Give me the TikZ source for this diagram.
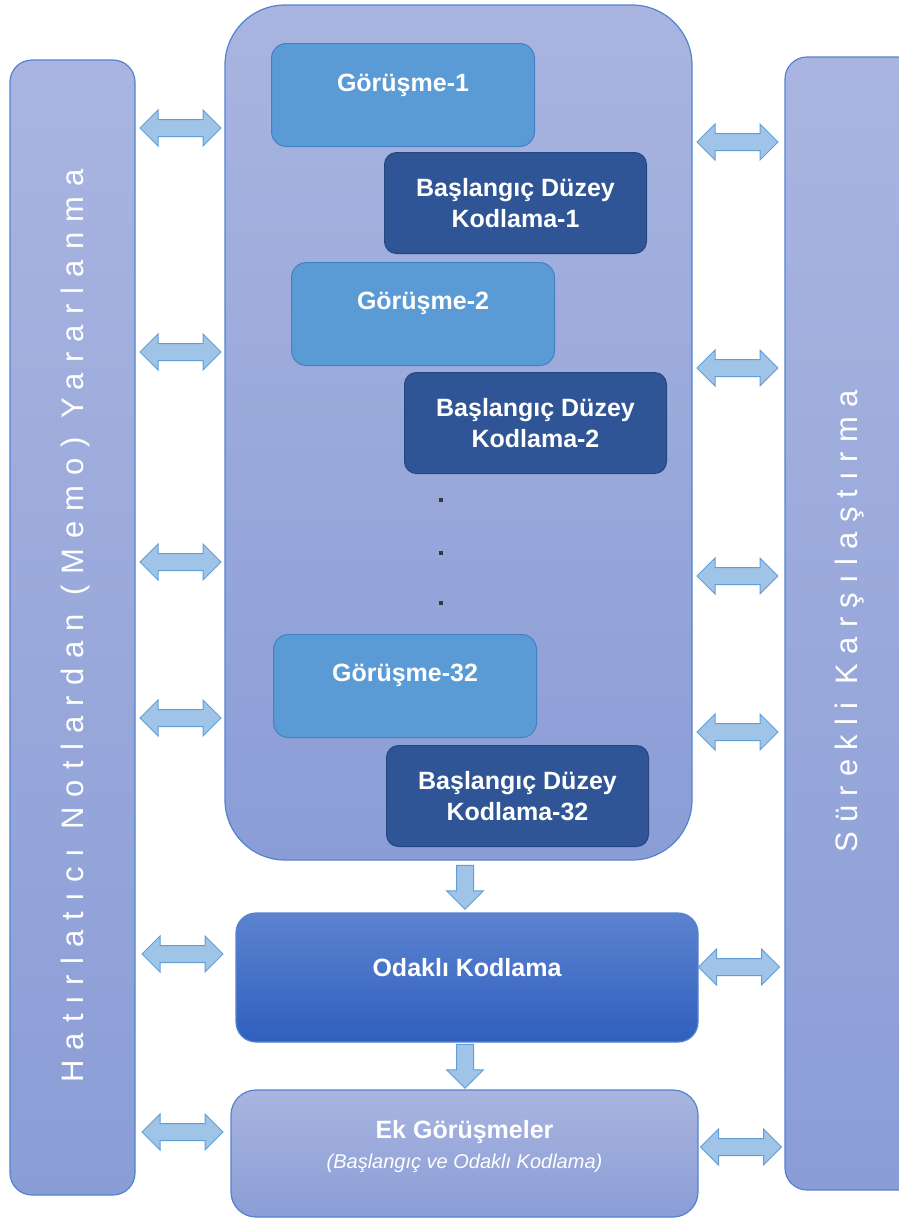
\documentclass[tikz,border=0pt]{standalone}
\usepackage{fontspec}
\setmainfont{Liberation Sans}
\newfontfamily\spacedfont[LetterSpace=30]{Liberation Sans}
\newfontfamily\widefont[LetterSpace=32.8]{Liberation Sans}
\usetikzlibrary{shapes.arrows}

\definecolor{barTop}{RGB}{169,181,224}
\definecolor{barBot}{RGB}{138,157,214}
\definecolor{barEdge}{RGB}{84,130,208}
\definecolor{gorFill}{RGB}{91,155,213}
\definecolor{gorEdge}{RGB}{68,128,196}
\definecolor{kodFill}{RGB}{47,85,151}
\definecolor{kodEdge}{RGB}{38,70,128}
\definecolor{odTop}{RGB}{92,131,207}
\definecolor{odBot}{RGB}{47,95,190}
\definecolor{arrFill}{RGB}{160,196,232}
\definecolor{arrEdge}{RGB}{96,158,214}
\definecolor{dotCol}{RGB}{55,55,60}

\tikzset{
  panel/.style={draw=barEdge, line width=1.2pt, top color=barTop, bottom color=barBot,
    anchor=north west, inner sep=0pt, outer sep=0pt},
  gorbox/.style={draw=gorEdge, line width=1pt, fill=gorFill, rounded corners=15pt,
    anchor=north west, minimum width=263pt, minimum height=103pt, inner sep=0pt},
  kodbox/.style={draw=kodEdge, line width=1pt, fill=kodFill, rounded corners=12pt,
    anchor=north west, minimum width=262pt, minimum height=101pt, inner sep=0pt,
    text=white, font=\bfseries\fontsize{25}{31}\selectfont, align=center},
  boxtext/.style={text=white, font=\bfseries\fontsize{25}{30}\selectfont, inner sep=0pt},
  vtext/.style={text=white, font=\spacedfont\fontsize{31}{36}\selectfont, rotate=90,
    anchor=base, inner sep=0pt},
  twoway/.style={double arrow, draw=arrEdge, line width=1pt, fill=arrFill,
    minimum height=81pt, minimum width=36pt, double arrow head extend=9.5pt,
    inner xsep=0pt, inner ysep=8pt},
  downway/.style={single arrow, draw=arrEdge, line width=1pt, fill=arrFill,
    minimum height=44pt, minimum width=37pt, single arrow head extend=10pt,
    inner sep=8pt, shape border rotate=270},
  dotmark/.style={fill=dotCol, minimum size=4pt, inner sep=0pt}
}

\begin{document}
\begin{tikzpicture}[x=1pt,y=-1pt]
\useasboundingbox (0,0) rectangle (899,1219);
\clip (0,0) rectangle (899,1219);

% side bars
\node[panel, rounded corners=22pt, minimum width=125pt, minimum height=1135pt] (lbar) at (10,60) {};
\node[panel, rounded corners=22pt, minimum width=140pt, minimum height=1133pt] (rbar) at (785,57) {};
\node[vtext, font=\widefont\fontsize{31}{36}\selectfont] (ltext) at (83,626) {Hatırlatıcı Notlardan (Memo) Yararlanma};
\node[vtext] (rtext) at (857,621.5) {Sürekli Karşılaştırma};

% interview container
\node[panel, rounded corners=60pt, minimum width=467pt, minimum height=855pt] (big) at (225,5) {};

\node[gorbox] (g1) at (271,43) {};
\node[boxtext] (g1t) at ([yshift=10pt]g1.center) {Görüşme-1};
\node[kodbox] (k1) at (384,152) {Başlangıç Düzey\\Kodlama-1};

\node[gorbox] (g2) at (291,262) {};
\node[boxtext] (g2t) at ([yshift=11pt]g2.center) {Görüşme-2};
\node[kodbox] (k2) at (404,372) {Başlangıç Düzey\\Kodlama-2};

\node[dotmark] (d1) at (441,500) {};
\node[dotmark] (d2) at (441,553) {};
\node[dotmark] (d3) at (441,603) {};

\node[gorbox] (g3) at (273,634) {};
\node[boxtext] (g3t) at ([yshift=11pt]g3.center) {Görüşme-32};
\node[kodbox] (k3) at (386,745) {Başlangıç Düzey\\Kodlama-32};

% focused coding and additional interviews
\node[panel, draw=barEdge, top color=odTop, bottom color=odBot, rounded corners=20pt,
      minimum width=462pt, minimum height=129pt] (od) at (236,913) {};
\node[boxtext] (odt) at ([yshift=10pt]od.center) {Odaklı Kodlama};

\node[panel, rounded corners=25pt, minimum width=467pt, minimum height=127pt] (ek) at (231,1090) {};
\node[boxtext] (ekt) at ([yshift=21pt]ek.center) {Ek Görüşmeler};
\node[text=white, font=\itshape\fontsize{20}{24}\selectfont, inner sep=0pt] (eks)
      at ([yshift=-10pt]ek.center) {(Başlangıç ve Odaklı Kodlama)};

% flow arrows
\node[downway] (a1) at (465,883) {};
\node[downway] (a2) at (465,1062) {};

% two-way links to the side bars
\node[twoway] (l1) at (180.5,128) {};
\node[twoway] (l2) at (180.5,352) {};
\node[twoway] (l3) at (180.5,562) {};
\node[twoway] (l4) at (180.5,718) {};
\node[twoway] (l5) at (182.5,954) {};
\node[twoway] (l6) at (182.5,1132) {};

\node[twoway] (r1) at (737.5,142) {};
\node[twoway] (r2) at (737.5,368) {};
\node[twoway] (r3) at (737.5,576) {};
\node[twoway] (r4) at (737.5,732) {};
\node[twoway] (r5) at (739,967) {};
\node[twoway] (r6) at (741,1147) {};
\end{tikzpicture}
\end{document}
